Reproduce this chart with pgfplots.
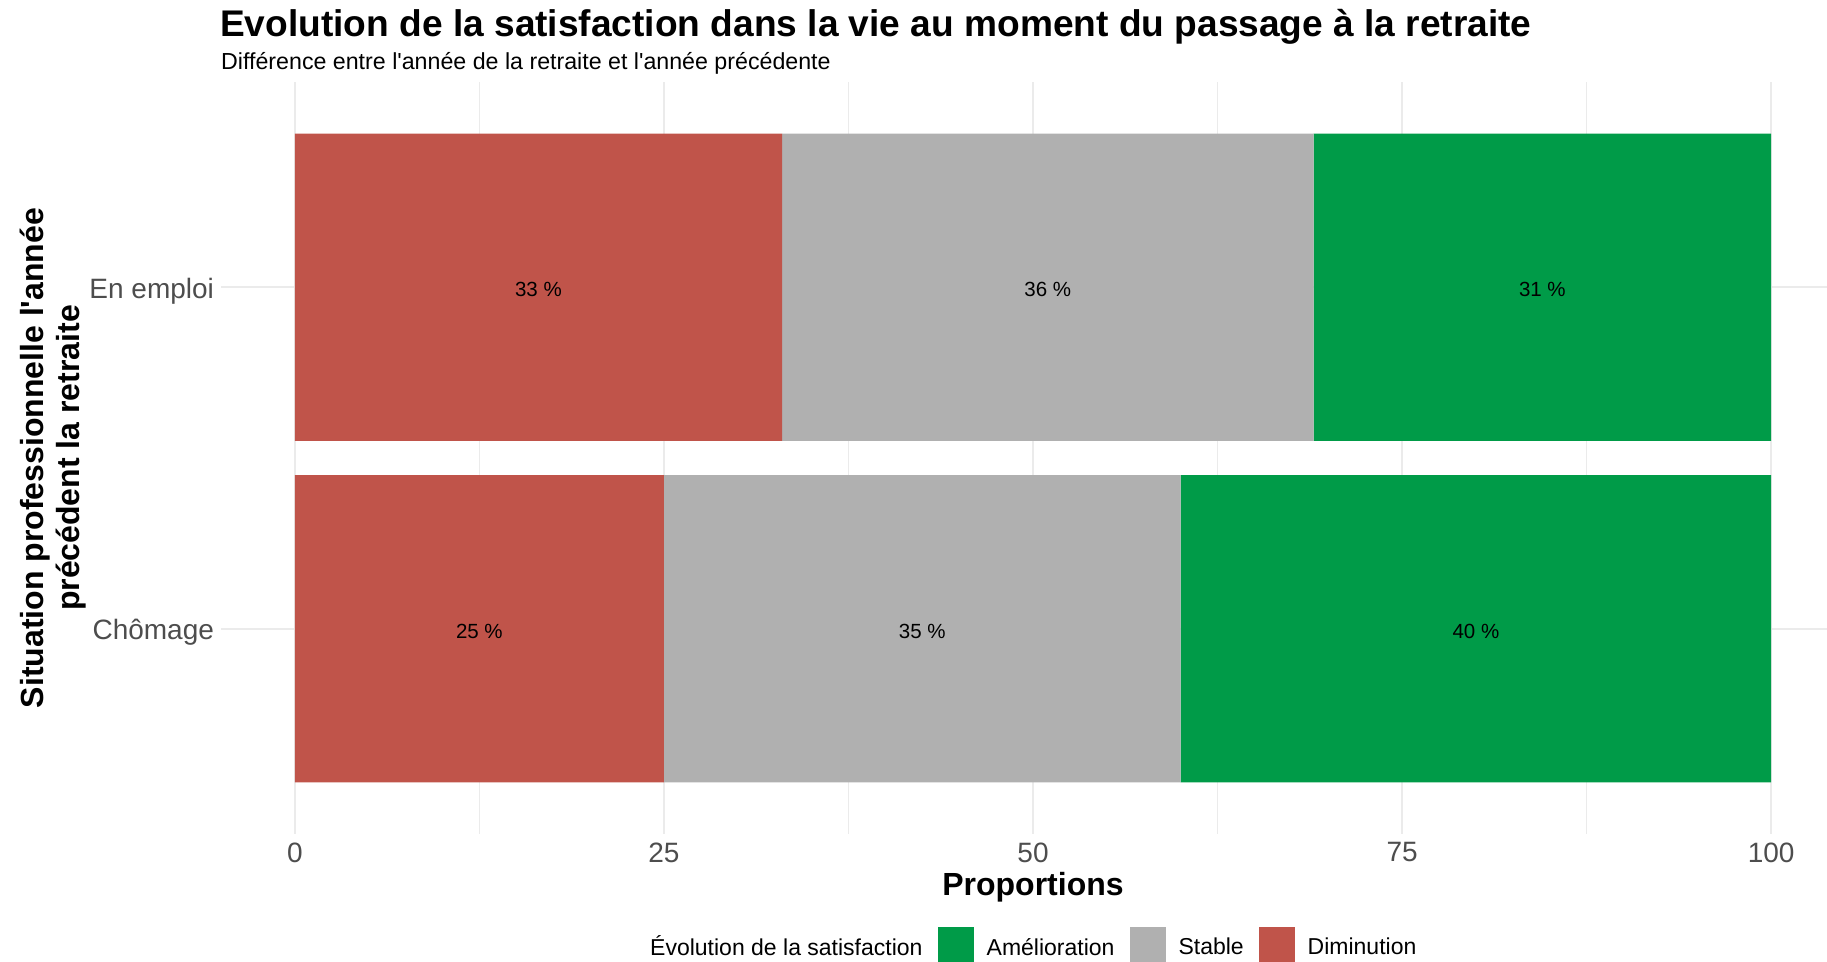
\documentclass[border=0pt]{standalone}
\usepackage{fontspec}
\setmainfont{Liberation Sans}
\usepackage{pgfplots}
\pgfplotsset{compat=1.18}
\definecolor{cRed}{HTML}{C0544A}
\definecolor{cGray}{HTML}{B0B0B0}
\definecolor{cGreen}{HTML}{009B48}
\definecolor{cGrid}{HTML}{EBEBEB}
\definecolor{cTick}{HTML}{4D4D4D}
\begin{document}
\begin{tikzpicture}[x=1pt,y=1pt]
\useasboundingbox (0,0) rectangle (1827,961);
\pgfplotsset{myaxis/.style={
  at={(221pt,127.5pt)}, anchor=south west, scale only axis,
  width=1624pt, height=751pt,
  xmin=-5, xmax=105, ymin=0.4, ymax=2.6}}
\begin{axis}[myaxis,
  xbar stacked, bar width=0.9,
  axis line style={draw=none}, tick style={draw=none},
  xtick={0,25,50,75,100}, minor xtick={12.5,37.5,62.5,87.5},
  ytick={1,2}, yticklabels={Chômage,En emploi},
  grid=both,
  major grid style={cGrid, line width=2.2pt},
  minor grid style={cGrid, line width=1.1pt},
  /pgf/number format/assume math mode=true,
  ticklabel style={font=\fontsize{28}{28}\selectfont, text=cTick},
  xticklabel style={yshift=-5.7pt},
  yticklabel style={xshift=-3.5pt, yshift=-3.5pt},
  xlabel={Proportions},
  xlabel style={at={(axis description cs:0.5,-0.0825)}, anchor=base,
    font=\bfseries\fontsize{32}{32}\selectfont},
  ylabel={Situation professionnelle l\textquotesingle année\\précédent la retraite},
  ylabel style={at={(axis description cs:-0.1034,0.5)}, anchor=center,
    align=center, font=\bfseries\fontsize{32}{36}\selectfont},
  legend style={at={(axis description cs:0.4413,-0.1249)}, anchor=north west,
    draw=none, fill=none, legend columns=-1, inner sep=0pt, outer sep=0pt,
    font=\fontsize{23}{23}\selectfont,
    nodes={inner sep=0pt},
    /tikz/every odd column/.style={column sep=13pt},
    /tikz/every even column/.style={column sep=15pt}},
]
\addplot[fill=cRed, draw=none, forget plot] coordinates {(33,2) (25,1)};
\addplot[fill=cGray, draw=none, forget plot] coordinates {(36,2) (35,1)};
\addplot[fill=cGreen, draw=none, forget plot] coordinates {(31,2) (40,1)};
\addlegendimage{legend image code/.code={\fill[cGreen] (0pt,-15.8pt) rectangle (35.6pt,19.8pt);}}
\addlegendentry{Amélioration}
\addlegendimage{legend image code/.code={\fill[cGray] (0pt,-15.8pt) rectangle (35.6pt,19.8pt);}}
\addlegendentry{Stable}
\addlegendimage{legend image code/.code={\fill[cRed] (0pt,-15.8pt) rectangle (35.6pt,19.8pt);}}
\addlegendentry{Diminution}
\end{axis}
\begin{axis}[myaxis, hide axis]
\addplot[draw=none, mark=none, nodes near coords, point meta=explicit symbolic,
  nodes near coords align={center},
  every node near coord/.append style={anchor=center, text=black, yshift=-2.3pt,
    font=\fontsize{20.5}{20.5}\selectfont}]
  coordinates {(16.5,2) [33 \%] (51,2) [36 \%] (84.5,2) [31 \%]
               (12.5,1) [25 \%] (42.5,1) [35 \%] (80,1) [40 \%]};
\end{axis}
\node[anchor=base west, inner sep=0pt, font=\bfseries\fontsize{37.1}{37.1}\selectfont]
  at (220,924.5) {Evolution de la satisfaction dans la vie au moment du passage à la retraite};
\node[anchor=base west, inner sep=0pt, font=\fontsize{23.2}{23.2}\selectfont]
  at (221,891.5) {Différence entre l\textquotesingle année de la retraite et l\textquotesingle année précédente};
\node[anchor=base west, inner sep=0pt, font=\fontsize{23}{23}\selectfont]
  at (650,5.5) {Évolution de la satisfaction};
\end{tikzpicture}
\end{document}
